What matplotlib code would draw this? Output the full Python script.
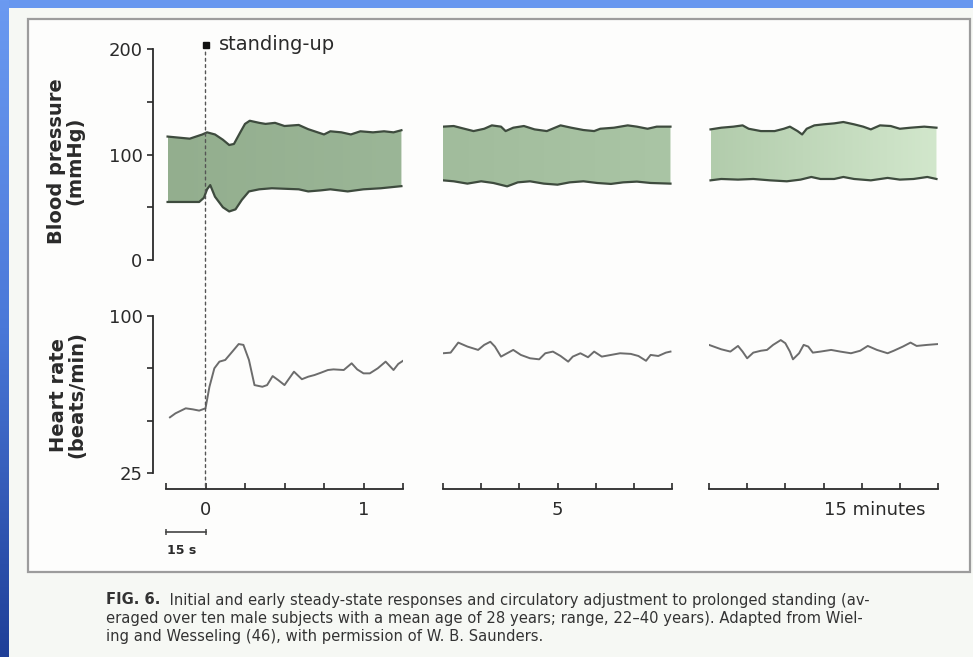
import numpy as np
import matplotlib
matplotlib.use('Agg')
import matplotlib.pyplot as plt
from matplotlib.patches import Rectangle, Polygon, ConnectionPatch
from matplotlib.colors import LinearSegmentedColormap

# ---------------- data (time in minutes) ----------------
# Blood pressure, segment 1 (around standing-up)
sys_t1 = [-0.24, -0.10, -0.02, 0.01, 0.06, 0.11, 0.15, 0.18, 0.22, 0.25, 0.28, 0.34, 0.38, 0.44,
          0.50, 0.59, 0.65, 0.69, 0.75, 0.79, 0.86, 0.92, 0.98, 1.06, 1.13, 1.19, 1.24]
sys_v1 = [117, 115, 119, 121, 119, 114, 109, 110, 121, 129, 132, 130, 129, 130,
          127, 128, 124, 122, 119, 122, 121, 119, 122, 121, 122, 121, 123]
dia_t1 = [-0.24, -0.04, -0.01, 0.01, 0.03, 0.06, 0.11, 0.15, 0.19, 0.23, 0.275, 0.34, 0.42,
          0.59, 0.65, 0.73, 0.79, 0.90, 1.00, 1.11, 1.24]
dia_v1 = [55, 55, 59, 67, 71, 60, 50, 46, 48, 57, 65, 67, 68,
          67, 65, 66, 67, 65, 67, 68, 70]
# segment 2 (around 5 min)
sys_t2 = [4.25, 4.32, 4.39, 4.45, 4.52, 4.57, 4.63, 4.66, 4.71, 4.78, 4.85, 4.93, 5.02,
          5.09, 5.17, 5.24, 5.28, 5.37, 5.46, 5.52, 5.59, 5.65, 5.74]
sys_v2 = [126.4, 127, 124.4, 122.2, 124.4, 127.6, 126.4, 122.2, 125.4, 127, 123.8, 122.2, 127.6,
          125.4, 123.2, 122.2, 124.4, 125.4, 127.6, 126.4, 124.4, 126.4, 126.4]
dia_t2 = [4.25, 4.32, 4.41, 4.50, 4.58, 4.67, 4.74, 4.82, 4.91, 5.00, 5.08, 5.17, 5.26,
          5.35, 5.43, 5.52, 5.61, 5.74]
dia_v2 = [75.5, 74.6, 72.4, 74.6, 73, 69.8, 73.6, 74.6, 72.4, 71.4, 73.6, 74.6, 73,
          72.1, 73.6, 74.3, 73, 72.4]
# segment 3 (around 15 min)
sys_t3 = [14.26, 14.33, 14.41, 14.47, 14.51, 14.59, 14.68, 14.74, 14.78, 14.83, 14.86, 14.89,
          14.94, 15.00, 15.07, 15.13, 15.20, 15.26, 15.31, 15.37, 15.44, 15.50, 15.57, 15.66, 15.74]
sys_v3 = [123.8, 125.4, 126.4, 127.6, 124.4, 122.2, 122.2, 124.4, 126.4, 122.2, 119, 124.4,
          127.6, 128.6, 129.5, 130.8, 128.6, 126.4, 123.8, 127.6, 127, 124.4, 125.4, 126.4, 125.4]
dia_t3 = [14.26, 14.33, 14.44, 14.54, 14.65, 14.76, 14.85, 14.92, 14.98, 15.07, 15.13, 15.20,
          15.31, 15.42, 15.50, 15.59, 15.68, 15.74]
dia_v3 = [75.5, 76.8, 76.2, 76.8, 75.5, 74.6, 76.2, 78.7, 76.8, 76.8, 78.7, 76.8,
          75.5, 77.8, 76.2, 76.8, 78.7, 76.8]

# Heart rate
hr_t1 = [-0.225, -0.19, -0.125, -0.08, -0.04, 0.0, 0.025, 0.056, 0.088, 0.125, 0.17, 0.21, 0.24,
         0.275, 0.31, 0.36, 0.39, 0.425, 0.46, 0.50, 0.53, 0.56, 0.61, 0.65, 0.69, 0.73, 0.775,
         0.81, 0.875, 0.925, 0.96, 1.0, 1.04, 1.09, 1.14, 1.19, 1.22, 1.25]
hr_v1 = [51.6, 53.5, 55.9, 55.4, 54.8, 55.9, 66.2, 75, 78.2, 79, 83, 86.6, 86.2,
         79, 67, 66.2, 67, 71.3, 69.4, 67, 70.2, 73.4, 69.8, 71, 71.8, 72.9, 74.2,
         74.5, 74.2, 77.4, 74.5, 72.6, 72.6, 75, 78.2, 74.2, 77.1, 78.6]
hr_t2 = [4.25, 4.30, 4.35, 4.41, 4.48, 4.52, 4.56, 4.59, 4.63, 4.67, 4.71, 4.76, 4.82, 4.88,
         4.92, 4.97, 5.02, 5.07, 5.10, 5.15, 5.20, 5.24, 5.29, 5.35, 5.41, 5.48, 5.53, 5.58,
         5.61, 5.66, 5.71, 5.74]
hr_v2 = [82.2, 82.5, 87.3, 85.4, 83.8, 86.2, 87.7, 85.4, 80.6, 82.2, 83.8, 81.4, 79.8, 79.3,
         82.2, 83, 80.9, 78.2, 80.6, 82.2, 80.3, 83, 80.6, 81.4, 82.2, 81.9, 80.9, 78.6,
         81.4, 80.9, 82.5, 83]
hr_t3 = [14.25, 14.33, 14.39, 14.44, 14.47, 14.50, 14.54, 14.59, 14.63, 14.67, 14.72, 14.75,
         14.78, 14.80, 14.84, 14.87, 14.90, 14.93, 14.98, 15.05, 15.11, 15.18, 15.24, 15.29,
         15.35, 15.42, 15.46, 15.52, 15.57, 15.61, 15.68, 15.75]
hr_v3 = [86.2, 84.1, 83, 85.7, 83, 79.8, 82.5, 83.4, 83.8, 86.2, 88.5, 87,
         83, 79.3, 82.2, 86.2, 85.4, 82.5, 83, 83.8, 83, 82.2, 83.4, 85.7,
         83.8, 82.2, 83.4, 85.4, 87.3, 85.7, 86.2, 86.6]

seg_xlims = [(-0.25, 1.25), (4.25, 5.75), (14.25, 15.75)]
seg_ticks = [[-0.25, 0, 0.25, 0.5, 0.75, 1.0, 1.25],
             [4.25, 4.5, 4.75, 5.0, 5.25, 5.5, 5.75],
             [14.25, 14.5, 14.75, 15.0, 15.25, 15.5, 15.75]]
seg_ticklabels = [['', '0', '', '', '', '1', ''],
                  ['', '', '', '5', '', '', ''],
                  ['', '', '', '15 minutes', '', '', '']]
bp_ticks = [0, 50, 100, 150, 200]
bp_ticklabels = ['0', '', '100', '', '200']
hr_ticks = [25, 50, 75, 100]
hr_ticklabels = ['25', '', '', '100']
caption_lines = [
    ("FIG. 6.", "  Initial and early steady-state responses and circulatory adjustment to prolonged standing (av-"),
    ("", "eraged over ten male subjects with a mean age of 28 years; range, 22\u201340 years). Adapted from Wiel-"),
    ("", "ing and Wesseling (46), with permission of W. B. Saunders."),
]

# ---------------- figure ----------------
W, H, DPI = 973, 657, 100
fig = plt.figure(figsize=(W / DPI, H / DPI), dpi=DPI)
fig.patch.set_facecolor('#6797ef')

def fbox(x0, y0, x1, y1):
    return [x0 / W, 1 - y1 / H, (x1 - x0) / W, (y1 - y0) / H]

# left blue gradient strip
axs = fig.add_axes(fbox(0, 0, 9, H), zorder=-5)
grad = np.linspace(0, 1, 256)[:, None]
axs.imshow(grad, aspect='auto', cmap=LinearSegmentedColormap.from_list('b', ['#6b9af1', '#4a78d8', '#1f3f98']),
           extent=[0, 1, 0, 1], origin='upper')
axs.axis('off')

fig.add_artist(Rectangle((9 / W, 0), 1 - 9 / W, 1 - 8 / H, transform=fig.transFigure,
                         facecolor='#f6f8f4', edgecolor='none', zorder=-3))
fig.add_artist(Rectangle((28 / W, 1 - 572 / H), (970 - 28) / W, (572 - 19) / H, transform=fig.transFigure,
                         facecolor='#fdfdfc', edgecolor='#9c9c9c', lw=1.6, zorder=-2))

col_px = [(166, 403), (443, 672), (709, 938)]
row_bp = (49, 260)
row_hr = (316, 473)

ink = '#2a2a2a'
fill_cols = [('#93ae8e', '#9bb697'), ('#a1bc9c', '#aac5a5'), ('#b2ccac', '#d2e7cc')]
sys_data = [(sys_t1, sys_v1), (sys_t2, sys_v2), (sys_t3, sys_v3)]
dia_data = [(dia_t1, dia_v1), (dia_t2, dia_v2), (dia_t3, dia_v3)]
hr_data = [(hr_t1, hr_v1), (hr_t2, hr_v2), (hr_t3, hr_v3)]

bp_axes, hr_axes = [], []
for i, (x0, x1) in enumerate(col_px):
    a = fig.add_axes(fbox(x0, row_bp[0], x1, row_bp[1]))
    b = fig.add_axes(fbox(x0, row_hr[0], x1, row_hr[1]))
    for ax in (a, b):
        ax.set_facecolor('none')
        for s in ax.spines.values():
            s.set_visible(False)
        ax.set_xlim(*seg_xlims[i])
        ax.set_xticks([])
        ax.set_yticks([])
    a.set_ylim(0, 200)
    b.set_ylim(25, 100)

    # blood pressure band
    st, sv = sys_data[i]
    dt, dv = dia_data[i]
    poly_x = np.concatenate([st, dt[::-1]])
    poly_y = np.concatenate([sv, dv[::-1]])
    poly = Polygon(np.column_stack([poly_x, poly_y]), closed=True, facecolor='none', edgecolor='none')
    a.add_patch(poly)
    cm = LinearSegmentedColormap.from_list('g%d' % i, list(fill_cols[i]))
    im = a.imshow(np.linspace(0, 1, 256)[None, :], cmap=cm, aspect='auto',
                  extent=[min(poly_x), max(poly_x), 0, 200], zorder=1)
    im.set_clip_path(poly)
    a.plot(st, sv, color='#3e4b3e', lw=1.6, zorder=3, solid_joinstyle='round')
    a.plot(dt, dv, color='#3e4b3e', lw=1.6, zorder=3, solid_joinstyle='round')
    a.set_xlim(*seg_xlims[i])
    a.set_ylim(0, 200)

    # heart rate
    ht, hv = hr_data[i]
    b.plot(ht, hv, color='#6c6c6c', lw=1.4, solid_joinstyle='round')

    # time axis
    b.spines['bottom'].set_visible(True)
    b.spines['bottom'].set_position(('outward', 11.5))
    b.spines['bottom'].set_color(ink)
    b.spines['bottom'].set_linewidth(1.3)
    b.set_xticks(seg_ticks[i])
    b.set_xticklabels(seg_ticklabels[i])
    b.tick_params(axis='x', direction='in', length=4, width=1.2, color=ink,
                  labelsize=13, labelcolor=ink, pad=9)
    bp_axes.append(a)
    hr_axes.append(b)

# label alignment for "15 minutes"
for lab in hr_axes[2].get_xticklabels():
    lab.set_horizontalalignment('left')
    lab.set_x(14.96)

# y axes
for ax, ticks, labels in ((bp_axes[0], bp_ticks, bp_ticklabels), (hr_axes[0], hr_ticks, hr_ticklabels)):
    ax.spines['left'].set_visible(True)
    ax.spines['left'].set_position(('outward', 9.4))
    ax.spines['left'].set_color(ink)
    ax.spines['left'].set_linewidth(1.3)
    ax.set_yticks(ticks)
    ax.set_yticklabels(labels)
    ax.tick_params(axis='y', direction='out', length=4.5, width=1.2, color=ink,
                   labelsize=13, labelcolor=ink, pad=3)

# axis titles
fig.text(66 / W, 1 - 161 / H, 'Blood pressure\n(mmHg)', rotation=90, ha='center', va='center',
         fontsize=14, fontweight='bold', color=ink, linespacing=0.95, multialignment='center')
fig.text(68 / W, 1 - 395 / H, 'Heart rate\n(beats/min)', rotation=90, ha='center', va='center',
         fontsize=14, fontweight='bold', color=ink, linespacing=0.95, multialignment='center')

# standing-up marker and dashed line
a0 = bp_axes[0]
a0.plot([0], [204], marker='s', ms=5, color='#111111', clip_on=False, zorder=5)
a0.text(0.085, 204, 'standing-up', fontsize=14, color=ink, va='center', ha='left', clip_on=False)
con = ConnectionPatch(xyA=(0, 197), coordsA=a0.transData, xyB=(0, 17.4), coordsB=hr_axes[0].transData,
                      linestyle=(0, (2, 2.5)), color='#555555', lw=1.0)
fig.add_artist(con)

# 15 s scale bar
b0 = hr_axes[0]
b0.plot([-0.25, 0.0], [-3.2, -3.2], color='#444444', lw=1.2, clip_on=False,
        marker='|', ms=4, mew=1.1)
b0.text(-0.15, -11.8, '15 s', fontsize=9, fontweight='bold', color=ink, ha='center', va='center')

# caption
renderer = fig.canvas.get_renderer()
cap_y = [600, 618, 636]
cap_fs = 10.6
for (bold, rest), yy in zip(caption_lines, cap_y):
    x = 106 / W
    if bold:
        t = fig.text(x, 1 - yy / H, bold, fontsize=cap_fs, fontweight='bold', color='#333333',
                     family='DejaVu Sans', va='center', ha='left')
        bb = t.get_window_extent(renderer)
        x = bb.x1 / W
    fig.text(x, 1 - yy / H, rest, fontsize=cap_fs, color='#333333', family='DejaVu Sans',
             va='center', ha='left')

fig.savefig('out.png', dpi=DPI, facecolor=fig.get_facecolor())
